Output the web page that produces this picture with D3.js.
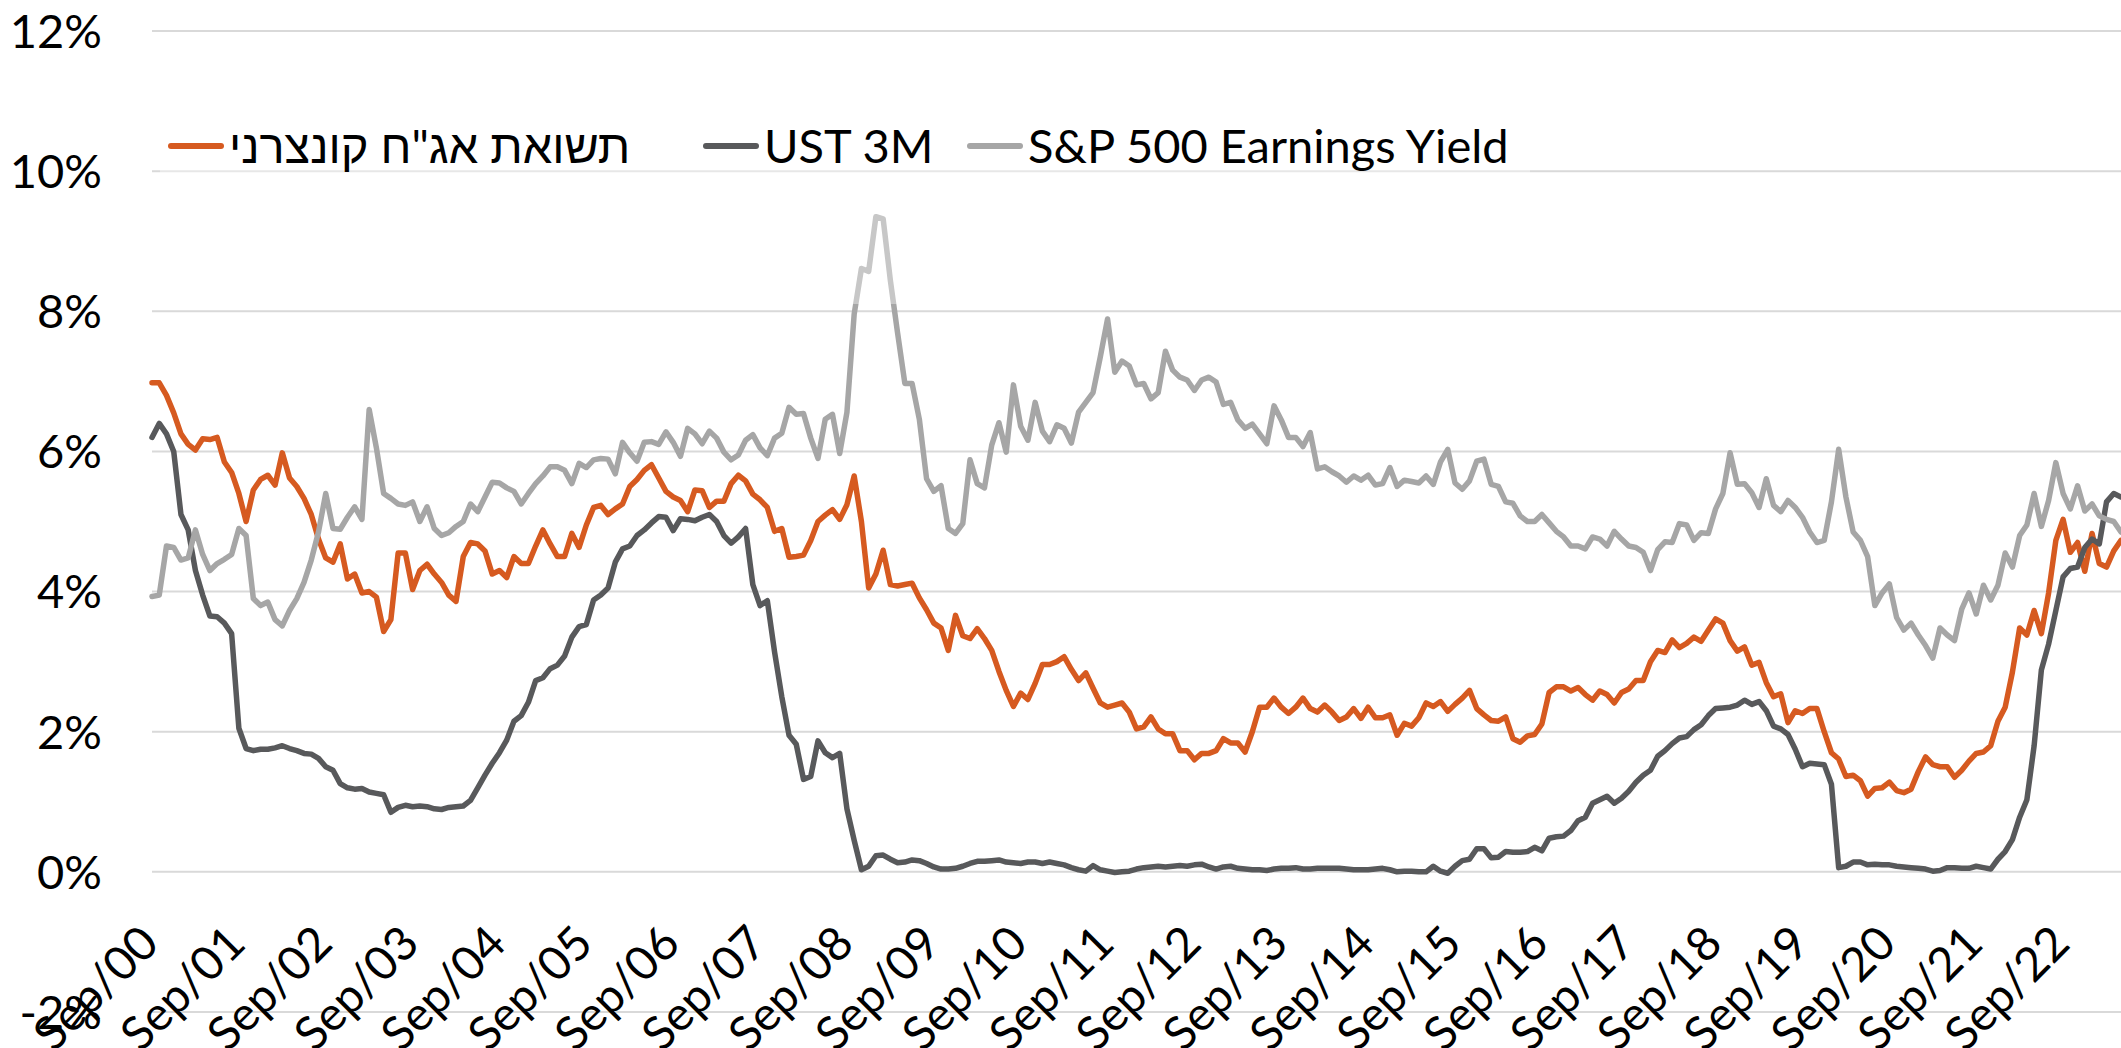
<!DOCTYPE html>
<html>
<head>
<meta charset="utf-8">
<script src="https://cdn.jsdelivr.net/npm/d3@7"></script>
<style>
  body { margin: 0; background: #fff; }
  text { font-family: Lato, "Liberation Sans", "DejaVu Sans", sans-serif; fill: #000; }
</style>
</head>
<body>
<script>
let width = 2121;
let height = 1048;

// monthly, Sep 2000 .. May 2023
const months = d3.timeMonth.range(new Date(2000, 8, 1), new Date(2023, 5, 1));

const seriesNames = ["תשואת אג\"ח קונצרני", "UST 3M", "S&P 500 Earnings Yield"];
const seriesColors = ["#D65A20", "#58595B", "#A6A6A6"];

const yTicks = [-2, 0, 2, 4, 6, 8, 10, 12];

// corporate bond yield (%)
const corpYield = [
  6.98, 6.98, 6.8, 6.55, 6.25, 6.1, 6.02, 6.18, 6.17, 6.2,
  5.85, 5.7, 5.4, 5.0, 5.45, 5.6, 5.66, 5.52, 5.98, 5.62,
  5.5, 5.33, 5.1, 4.75, 4.48, 4.42, 4.68, 4.18, 4.25, 3.98,
  4.0, 3.92, 3.43, 3.6, 4.55, 4.55, 4.03, 4.3, 4.39, 4.25,
  4.13, 3.95, 3.86, 4.5, 4.7, 4.68, 4.58, 4.25, 4.3, 4.2,
  4.5, 4.4, 4.4, 4.65, 4.88, 4.68, 4.5, 4.5, 4.83, 4.63,
  4.95, 5.2, 5.23, 5.1, 5.18, 5.25, 5.5, 5.6, 5.73, 5.81,
  5.62, 5.43, 5.35, 5.3, 5.14, 5.45, 5.44, 5.2, 5.29, 5.29,
  5.54, 5.66, 5.58, 5.39, 5.31, 5.2, 4.86, 4.9, 4.49, 4.5,
  4.52, 4.73, 5.0, 5.09, 5.17, 5.03, 5.24, 5.65, 5.0, 4.05,
  4.25, 4.59, 4.1, 4.08, 4.1, 4.12, 3.91, 3.74, 3.55, 3.48,
  3.16, 3.66, 3.37, 3.33, 3.47, 3.33, 3.16, 2.86, 2.59, 2.36,
  2.55, 2.46, 2.69, 2.96, 2.96, 3.0, 3.07, 2.89, 2.73, 2.84,
  2.62, 2.41, 2.35, 2.38, 2.41, 2.28, 2.04, 2.07, 2.21, 2.04,
  1.97, 1.97, 1.73, 1.73, 1.6, 1.69, 1.69, 1.73, 1.9, 1.84,
  1.84, 1.71, 2.0, 2.35, 2.35, 2.48, 2.35, 2.26, 2.35, 2.48,
  2.33, 2.28, 2.38, 2.28, 2.16, 2.21, 2.33, 2.19, 2.35, 2.2,
  2.2, 2.24, 1.95, 2.12, 2.08, 2.2, 2.41, 2.36, 2.43, 2.29,
  2.39, 2.48, 2.59, 2.33, 2.24, 2.16, 2.15, 2.21, 1.9, 1.85,
  1.94, 1.96, 2.11, 2.56, 2.64, 2.64, 2.58, 2.63, 2.53, 2.45,
  2.58, 2.53, 2.41, 2.56, 2.61, 2.73, 2.73, 3.0, 3.16, 3.13,
  3.31, 3.2, 3.26, 3.35, 3.29, 3.45, 3.61, 3.55, 3.3, 3.15,
  3.21, 2.95, 2.99, 2.7, 2.5, 2.54, 2.13, 2.3, 2.26, 2.33,
  2.33, 2.0, 1.7, 1.61, 1.36, 1.38, 1.3, 1.08, 1.19, 1.2,
  1.28, 1.16, 1.13, 1.18, 1.43, 1.64, 1.53, 1.5, 1.5, 1.35,
  1.45, 1.58, 1.69, 1.71, 1.8, 2.15, 2.35, 2.85, 3.48, 3.38,
  3.73, 3.4, 3.98, 4.73, 5.03, 4.56, 4.7, 4.29, 4.83, 4.4,
  4.35, 4.58, 4.73
];

// US treasury 3 month (%)
const ust3m = [
  6.2, 6.4, 6.25, 6.0, 5.1, 4.88, 4.3, 3.95, 3.65, 3.64,
  3.55, 3.4, 2.05, 1.76, 1.73, 1.75, 1.75, 1.77, 1.8, 1.76,
  1.73, 1.69, 1.68, 1.62, 1.5, 1.45, 1.26, 1.2, 1.18, 1.19,
  1.14, 1.12, 1.1, 0.85, 0.92, 0.95, 0.93, 0.94, 0.93, 0.9,
  0.89, 0.92, 0.93, 0.94, 1.02, 1.2, 1.38, 1.55, 1.7, 1.88,
  2.15, 2.23, 2.42, 2.73, 2.77, 2.9, 2.95, 3.08, 3.35, 3.5,
  3.53, 3.88, 3.95, 4.05, 4.42, 4.61, 4.65, 4.8, 4.88, 4.98,
  5.07, 5.06, 4.87, 5.04, 5.03, 5.01, 5.06, 5.1, 5.0, 4.8,
  4.69, 4.78, 4.9, 4.1, 3.8, 3.87, 3.14, 2.5, 1.95, 1.82,
  1.32, 1.36, 1.87, 1.7, 1.63, 1.69, 0.9, 0.45, 0.03, 0.08,
  0.23, 0.24, 0.18, 0.13, 0.14, 0.17, 0.16, 0.12, 0.07, 0.04,
  0.04, 0.05, 0.08, 0.12, 0.15, 0.15, 0.16, 0.17, 0.14, 0.13,
  0.12, 0.14, 0.14, 0.12, 0.14, 0.12, 0.1, 0.06, 0.03, 0.01,
  0.09, 0.03, 0.01, -0.01, 0.0, 0.01, 0.04, 0.06, 0.07, 0.08,
  0.07, 0.08, 0.09, 0.08, 0.1, 0.11, 0.07, 0.04, 0.07, 0.08,
  0.05, 0.04, 0.03, 0.03, 0.02, 0.04, 0.05, 0.05, 0.06, 0.04,
  0.04, 0.05, 0.05, 0.05, 0.05, 0.04, 0.03, 0.03, 0.03, 0.04,
  0.05, 0.03, 0.0, 0.01, 0.01, 0.0, 0.0, 0.08, 0.01, -0.02,
  0.08, 0.16, 0.18, 0.33, 0.33, 0.2, 0.21, 0.29, 0.28, 0.28,
  0.29, 0.35, 0.3, 0.48, 0.5, 0.51, 0.59, 0.73, 0.78, 0.98,
  1.03, 1.08, 0.98, 1.05, 1.15, 1.28, 1.38, 1.45, 1.65, 1.73,
  1.83, 1.91, 1.93, 2.03, 2.1, 2.23, 2.33, 2.34, 2.35, 2.38,
  2.45, 2.39, 2.43, 2.3, 2.08, 2.04, 1.96, 1.75, 1.5, 1.55,
  1.54, 1.53, 1.25, 0.06, 0.08, 0.14, 0.14, 0.1, 0.11, 0.1,
  0.1, 0.08, 0.07, 0.06, 0.05, 0.04, 0.01, 0.02, 0.06, 0.06,
  0.05, 0.05, 0.08, 0.06, 0.04, 0.18, 0.29, 0.46, 0.78, 1.03,
  1.8, 2.88, 3.25, 3.73, 4.21, 4.33, 4.35, 4.63, 4.75, 4.68,
  5.28, 5.4, 5.35
];

// S&P 500 earnings yield (%)
const spEarnYield = [
  3.93, 3.95, 4.65, 4.63, 4.45, 4.48, 4.88, 4.53, 4.3, 4.4,
  4.46, 4.53, 4.9, 4.8, 3.9, 3.8, 3.85, 3.6, 3.51, 3.73,
  3.9, 4.13, 4.45, 4.85, 5.4, 4.9, 4.89, 5.06, 5.21, 5.03,
  6.6, 6.05, 5.4, 5.33, 5.25, 5.23, 5.28, 5.0, 5.21, 4.9,
  4.8, 4.84, 4.93, 5.0, 5.25, 5.14, 5.35, 5.56, 5.55, 5.48,
  5.43, 5.25, 5.4, 5.54, 5.65, 5.78, 5.78, 5.73, 5.54, 5.83,
  5.77, 5.88, 5.9, 5.89, 5.68, 6.13, 5.98, 5.86, 6.13, 6.14,
  6.1, 6.28, 6.13, 5.93, 6.33, 6.25, 6.11, 6.29, 6.19, 5.99,
  5.88, 5.95, 6.16, 6.24, 6.05, 5.94, 6.19, 6.26, 6.63, 6.53,
  6.54, 6.19, 5.9, 6.46, 6.53, 5.97, 6.56, 7.96, 8.61, 8.57,
  9.35, 9.32, 8.44, 7.69, 6.97, 6.97, 6.46, 5.61, 5.43, 5.51,
  4.9, 4.83, 4.97, 5.88, 5.54, 5.48, 6.09, 6.41, 5.99, 6.95,
  6.36, 6.16, 6.7, 6.29, 6.14, 6.38, 6.33, 6.12, 6.56, 6.7,
  6.84, 7.35, 7.89, 7.13, 7.29, 7.22, 6.95, 6.97, 6.75, 6.84,
  7.43, 7.16, 7.06, 7.02, 6.87, 7.02, 7.06, 6.99, 6.67, 6.7,
  6.45, 6.33, 6.39, 6.25, 6.11, 6.65, 6.45, 6.2, 6.2, 6.07,
  6.27, 5.75, 5.78, 5.71, 5.65, 5.56, 5.65, 5.59, 5.66, 5.52,
  5.54, 5.77, 5.5, 5.59, 5.57, 5.55, 5.65, 5.53, 5.85, 6.03,
  5.55, 5.46, 5.58, 5.86, 5.89, 5.53, 5.5, 5.28, 5.26, 5.08,
  5.0, 5.0, 5.1, 4.98, 4.86, 4.78, 4.65, 4.65, 4.61, 4.78,
  4.75, 4.65, 4.86, 4.75, 4.65, 4.63, 4.56, 4.3, 4.6, 4.71,
  4.7, 4.97, 4.95, 4.73, 4.84, 4.83, 5.18, 5.4, 5.98, 5.53,
  5.54, 5.41, 5.2, 5.61, 5.23, 5.14, 5.3, 5.2, 5.06, 4.85,
  4.7, 4.73, 5.28, 6.03, 5.35, 4.85, 4.73, 4.5, 3.8, 3.98,
  4.11, 3.63, 3.45, 3.55, 3.38, 3.23, 3.05, 3.48, 3.38, 3.3,
  3.75, 3.98, 3.68, 4.09, 3.88, 4.09, 4.55, 4.35, 4.8, 4.95,
  5.4, 4.93, 5.3, 5.84, 5.4, 5.18, 5.51, 5.15, 5.25, 5.08,
  5.03, 5.0, 4.85
];

const series = [corpYield, ust3m, spEarnYield];

let svg = d3.select("body")
  .append("svg")
  .attr("width", width)
  .attr("height", height);

svg.append("rect")
  .attr("width", width)
  .attr("height", height)
  .attr("fill", "#fff");

let scaleX = d3.scaleLinear()
  .domain([0, months.length - 1])
  .range([152, 2121]);

let scaleY = d3.scaleLinear()
  .domain([-2, 12])
  .range([1012, 31]);

// gridlines
svg.append("g")
  .selectAll("line")
  .data(yTicks)
  .join("line")
  .attr("x1", 152)
  .attr("x2", width)
  .attr("y1", d => scaleY(d))
  .attr("y2", d => scaleY(d))
  .style("stroke", "#D9D9D9")
  .style("stroke-width", 2);

// y labels
svg.append("g")
  .selectAll("text")
  .data(yTicks)
  .join("text")
  .attr("x", 102)
  .attr("y", d => scaleY(d))
  .attr("dy", "0.36em")
  .attr("text-anchor", "end")
  .style("font-size", "47px")
  .text(d => d + "%");

// x labels, every September
let fmt = d3.timeFormat("%b/%y");
let labelIdx = months.map((m, i) => i).filter(i => months[i].getMonth() === 8);

svg.append("g")
  .selectAll("text")
  .data(labelIdx)
  .join("text")
  .attr("text-anchor", "end")
  .attr("transform", i => `translate(${scaleX(i) + 9}, 946) rotate(-45)`)
  .style("font-size", "47px")
  .text(i => fmt(months[i]));

let line = d3.line()
  .x((d, i) => scaleX(i))
  .y(d => scaleY(d))
  .curve(d3.curveLinear);

series.forEach((s, k) => {
  svg.append("path")
    .datum(s)
    .attr("d", line)
    .style("fill", "none")
    .style("stroke", seriesColors[k])
    .style("stroke-width", 5.5)
    .style("stroke-linejoin", "round")
    .style("stroke-linecap", "round");
});

// legend box (semi transparent white, as in the source)
svg.append("rect")
  .attr("x", 160)
  .attr("y", 40)
  .attr("width", 1370)
  .attr("height", 264)
  .attr("fill", "#fff")
  .attr("fill-opacity", 0.37);

const legendX = [168, 703, 967];
let legend = svg.append("g");
seriesNames.forEach((name, k) => {
  legend.append("line")
    .attr("x1", legendX[k] + 3)
    .attr("x2", legendX[k] + 53)
    .attr("y1", 146)
    .attr("y2", 146)
    .style("stroke", seriesColors[k])
    .style("stroke-width", 6)
    .style("stroke-linecap", "round");
  legend.append("text")
    .attr("x", legendX[k] + 61)
    .attr("y", 146)
    .attr("dy", "0.36em")
    .style("font-size", "47px")
    .text(name);
});
</script>
</body>
</html>
